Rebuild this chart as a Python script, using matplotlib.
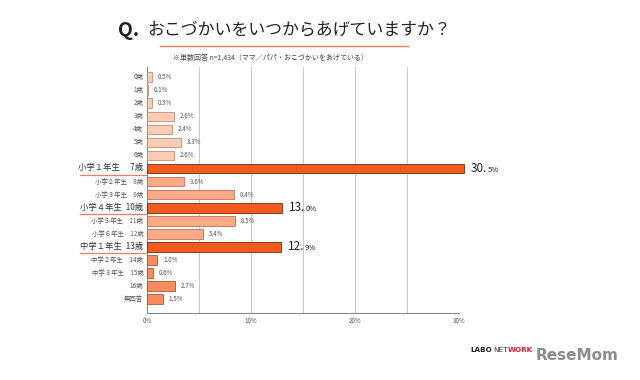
import matplotlib
matplotlib.use("Agg")
import matplotlib.pyplot as plt
from matplotlib.transforms import blended_transform_factory

plt.rcParams['font.family'] = ['Noto Sans CJK JP', 'DejaVu Sans']

labels = ['0歳', '1歳', '2歳', '3歳', '4歳', '5歳', '6歳',
          '小学１年生　 7歳', '小学２年生　8歳', '小学３年生　9歳',
          '小学４年生  10歳', '小学５年生　11歳', '小学６年生　12歳',
          '中学１年生  13歳', '中学２年生　14歳', '中学３年生　15歳',
          '16歳', '無回答']
values = [0.5, 0.1, 0.5, 2.6, 2.4, 3.3, 2.6, 30.5, 3.6, 8.4, 13.0, 8.5,
          5.4, 12.9, 1.0, 0.6, 2.7, 1.5]
highlight = [7, 10, 13]
groups = [0, 0, 0, 0, 0, 0, 0, 3, 1, 1, 3, 1, 1, 3, 2, 2, 2, 2]
group_colors = ['#FCCBB3', '#FBA884', '#F98B5C', '#F25A1E']
edge_colors = ['#C98B70', '#B87258', '#A85A38', '#7A2A10']
xticks = [0, 10, 20, 30]
xtick_labels = ['0%', '10%', '20%', '30%']

fig = plt.figure(figsize=(6.4, 3.8), dpi=100)
ax = fig.add_axes([147/640, 1-313/380, 312/640, (313-67)/380])

y = list(range(len(values)))
colors = [group_colors[g] for g in groups]
edges = [edge_colors[g] for g in groups]
bars = ax.barh(y, values, height=0.74, color=colors, edgecolor=edges, linewidth=0.6, zorder=3)
for b in bars:
    b.set_clip_on(False)

ax.set_xlim(0, 30)
ax.set_ylim(18.07, -0.78)
for gx in [5, 10, 15, 20, 25, 30]:
    ax.axvline(gx, color='#C8C8C8', linewidth=0.7, zorder=1)
ax.set_xticks(xticks)
ax.set_xticklabels(xtick_labels, fontsize=4.5, color='#555555')
ax.tick_params(axis='x', length=0, pad=3)
ax.set_yticks([])
for s in ['top', 'right']:
    ax.spines[s].set_visible(False)
ax.spines['left'].set_color('#888888')
ax.spines['bottom'].set_color('#888888')
ax.spines['left'].set_linewidth(0.8)
ax.spines['bottom'].set_linewidth(0.8)

trans = blended_transform_factory(ax.transAxes, ax.transData)
for i, lab in enumerate(labels):
    if i in highlight:
        ax.text(-0.012, i - 0.05, lab, transform=trans, ha='right', va='center',
                fontsize=6.0, color='#333333')
        ax.plot([-0.215, -0.003], [i + 0.47, i + 0.47], transform=trans,
                color='#E9825A', linewidth=0.9, clip_on=False)
    else:
        ax.text(-0.012, i, lab, transform=trans, ha='right', va='center',
                fontsize=4.6, color='#555555')

fig.canvas.draw()
renderer = fig.canvas.get_renderer()
for i, v in enumerate(values):
    if i in highlight:
        s = f'{v:.1f}%'
        big, small = s[:s.index('.') + 1], s[s.index('.') + 1:]
        t = ax.annotate(big, (v, i), xytext=(5, 0), textcoords='offset points',
                        ha='left', va='center', fontsize=8.5, color='#222222',
                        annotation_clip=False)
        bb = t.get_window_extent(renderer)
        ax.annotate(small, (v, i), xytext=(5 + bb.width * 72 / fig.dpi, -0.8),
                    textcoords='offset points', ha='left', va='center',
                    fontsize=5.5, color='#222222', annotation_clip=False)
    else:
        ax.annotate(f'{v}%', (v, i), xytext=(4, 0), textcoords='offset points',
                    ha='left', va='center', fontsize=4.5, color='#555555',
                    annotation_clip=False)

fig.text(118/640, 1-30/380, 'Q.', fontsize=14, fontweight='bold', color='#222222',
         ha='left', va='center')
fig.text(147/640, 1-30/380, 'おこづかいをいつからあげていますか？', fontsize=12.2,
         color='#222222', ha='left', va='center')
fig.add_artist(plt.Line2D([160/640, 408/640], [1-46/380, 1-46/380],
                          color='#E9825A', linewidth=1.0))
fig.text(270/640, 1-58/380, '※単数回答 n=1,434（ママ／パパ・おこづかいをあげている）',
         fontsize=5, color='#444444', ha='center', va='center')

# logos
x0 = 470
parts = [('LABO', 'bold', '#222222'), ('NET', 'normal', '#333333'), ('WORK', 'bold', '#D8202A')]
for txt, fw, col in parts:
    t = fig.text(x0/640, 1-350/380, txt, fontsize=5.2, fontweight=fw, color=col,
                 ha='left', va='center', family='DejaVu Sans')
    fig.canvas.draw()
    bb = t.get_window_extent(fig.canvas.get_renderer())
    x0 = bb.x1 + 1
fig.text(x0/640 + 1/640, 1-355/380, 'ReseMom', fontsize=11, fontweight='bold',
         color='#8C8C8C', ha='left', va='center', family='DejaVu Sans')

fig.savefig('out.png', dpi=100)
